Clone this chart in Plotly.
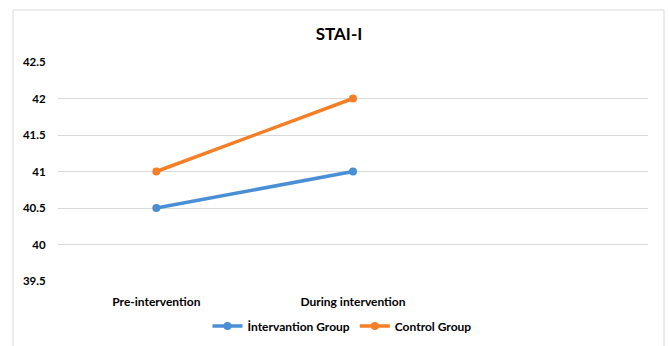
import plotly.graph_objects as go

categories = ["Pre-intervention", "During intervention"]
intervention = [40.5, 41]
control = [41, 42]
series_names = ["İntervantion Group", "Control Group"]
y_ticks = [39.5, 40, 40.5, 41, 41.5, 42, 42.5]
y_tick_text = ["39.5", "40", "40.5", "41", "41.5", "42", "42.5"]

BLUE = "#4A8FD6"
ORANGE = "#F57F27"
FONT = "Lato, 'Open Sans', sans-serif"

fig = go.Figure()
fig.add_trace(go.Scatter(x=categories, y=intervention, name=series_names[0],
                         mode="lines+markers",
                         line=dict(color=BLUE, width=3.5),
                         marker=dict(color=BLUE, size=8)))
fig.add_trace(go.Scatter(x=categories, y=control, name=series_names[1],
                         mode="lines+markers",
                         line=dict(color=ORANGE, width=3.5),
                         marker=dict(color=ORANGE, size=8)))

L, R, T, B = 58, 21, 62, 65
W, H = 669, 346
pw = W - L - R
ph = H - T - B

def px_x(p):
    return (p - L) / pw

def px_y(p):
    return (H - B - p) / ph

fig.update_layout(
    width=W, height=H,
    margin=dict(l=L, r=R, t=T, b=B, autoexpand=False),
    paper_bgcolor="white", plot_bgcolor="white",
    font=dict(family=FONT, size=12, color="#000000"),
    title=dict(text="STAI-I", x=339 / W, xref="container", xanchor="center",
               y=1 - 34 / H, yref="container", yanchor="middle",
               font=dict(family=FONT, size=17, color="#000000", weight="bold")),
    showlegend=True,
    legend=dict(orientation="h", x=px_x(342), xanchor="center",
                y=px_y(326), yanchor="middle",
                font=dict(family=FONT, size=12, color="#000000", weight="bold"),
                itemwidth=30, tracegroupgap=0, bgcolor="rgba(0,0,0,0)"),
    xaxis=dict(type="category", categoryorder="array", categoryarray=categories,
               range=[-0.5, 2.5], showgrid=False, zeroline=False, showline=False,
               automargin=False,
               ticks="outside", ticklen=10, tickcolor="rgba(0,0,0,0)",
               tickfont=dict(family=FONT, size=12, color="#000000", weight="bold"),
               fixedrange=True),
    yaxis=dict(range=[39.5, 42.5], tickvals=y_ticks, ticktext=y_tick_text,
               showgrid=True, gridcolor="#D9D9D9", gridwidth=1,
               zeroline=False, showline=False, automargin=False,
               ticks="outside", ticklen=9, tickcolor="rgba(0,0,0,0)",
               tickfont=dict(family=FONT, size=11.5, color="#000000", weight="bold"),
               fixedrange=True),
    shapes=[dict(type="rect", xref="paper", yref="paper",
                 x0=px_x(13), x1=px_x(664), y0=px_y(380), y1=px_y(10),
                 line=dict(color="#D9D9D9", width=1), fillcolor="rgba(0,0,0,0)",
                 layer="below")],
)

fig.write_html("out.html")
